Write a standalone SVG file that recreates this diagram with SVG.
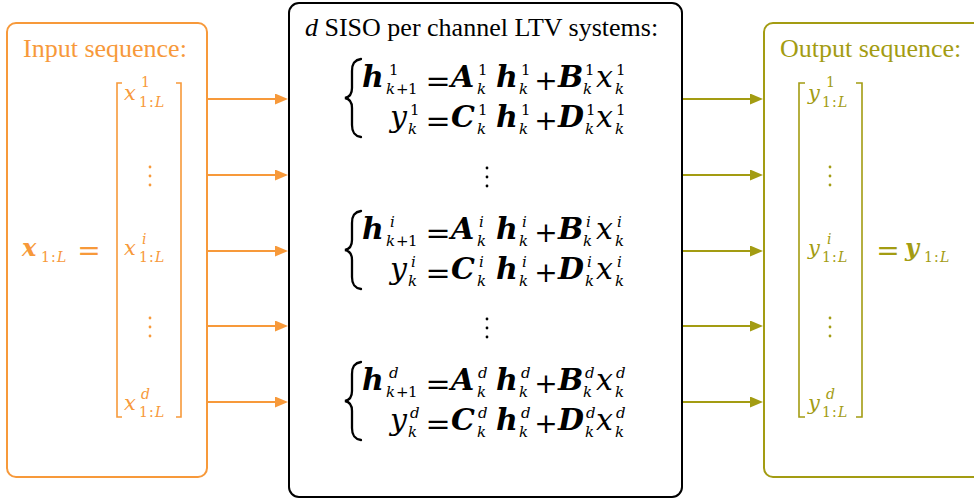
<svg xmlns="http://www.w3.org/2000/svg" width="974" height="502" viewBox="0 0 974 502">
<defs>
<style>
text{font-family:"Liberation Serif","Times New Roman",serif}
.mi{font-style:italic}
.mb{font-style:italic;font-weight:bold}
.op{font-family:"DejaVu Serif",serif;text-anchor:middle}
.m{font-family:"DejaVu Serif",serif;font-size:30px}
.s{font-family:"DejaVu Serif",serif;font-size:15px}
.v{font-family:"DejaVu Serif",serif;font-size:21px}
.vs{font-family:"DejaVu Serif",serif;font-size:14px}
.or{fill:#F7993A}
.ol{fill:#A39C12}
.orS{stroke:#F7993A;fill:none}
.olS{stroke:#A39C12;fill:none}
.brace{fill:none;stroke:#000;stroke-width:2.3;stroke-linecap:round}
</style>
<marker id="ao" markerUnits="userSpaceOnUse" markerWidth="14" markerHeight="12" refX="4" refY="5.5" orient="auto"><path d="M0,0 L13,5.5 L0,11 Z" fill="#F7993A"/></marker>
<marker id="al" markerUnits="userSpaceOnUse" markerWidth="14" markerHeight="12" refX="4" refY="5.5" orient="auto"><path d="M0,0 L13,5.5 L0,11 Z" fill="#A39C12"/></marker>
</defs>
<rect width="974" height="502" fill="#fff"/>

<g id="input">
<rect x="7" y="23" width="200" height="454" rx="9" class="orS" stroke-width="2"/>
<text x="23" y="57" font-size="26" class="or">Input sequence:</text>
<path d="M122 83 H117 V417 H122 M176 83 H181 V417 H176" class="orS" stroke-width="1.6"/>
<g class="or">
<text class="v mi" x="124" y="100">x</text><text class="vs" x="141" y="87">1</text>
<text class="vs" y="107"><tspan x="139">1</tspan><tspan x="149">:</tspan><tspan x="155" class="mi">L</tspan></text>
<g transform="translate(0,155)"><text class="v mi" x="124" y="100">x</text><text class="vs mi" x="142" y="89">i</text>
<text class="vs" y="107"><tspan x="139">1</tspan><tspan x="149">:</tspan><tspan x="155" class="mi">L</tspan></text></g>
<g transform="translate(0,310)"><text class="v mi" x="124" y="100">x</text><text class="vs mi" x="141" y="89">d</text>
<text class="vs" y="107"><tspan x="139">1</tspan><tspan x="149">:</tspan><tspan x="155" class="mi">L</tspan></text></g>
<circle cx="150" cy="167" r="1.4"/><circle cx="150" cy="176" r="1.4"/><circle cx="150" cy="185" r="1.4"/>
<circle cx="150" cy="318" r="1.4"/><circle cx="150" cy="327" r="1.4"/><circle cx="150" cy="336" r="1.4"/>
<text class="mb" style="font-family:'DejaVu Serif',serif" font-size="24" x="22" y="256">x</text>
<text class="vs" y="262"><tspan x="41">1</tspan><tspan x="51">:</tspan><tspan x="57" class="mi">L</tspan></text>
<text class="op" font-size="28" x="89" y="260">=</text>
</g>
</g>

<g id="systems">
<rect x="289" y="3" width="393" height="494" rx="10" fill="none" stroke="#000" stroke-width="2"/>
<text x="305" y="36" font-size="26"><tspan class="mi">d</tspan> SISO per channel LTV systems:</text>
<g id="sys1">
<path class="brace" d="M361 59 C354 60 352 64 352 71 L352 88 C352 94 350 97 345 98 C350 99 352 102 352 108 L352 125 C352 132 354 136 361 137"/>
<text class="m mb" x="362" y="87">h</text><text class="s" x="389" y="75">1</text>
<text class="s" y="94" font-size="14"><tspan x="386" class="mi">k</tspan><tspan x="396">+</tspan><tspan x="408">1</tspan></text>
<text class="op" font-size="30" x="438" y="91">=</text>
<text class="m mb" x="451" y="87">A</text><text class="s" x="478" y="75">1</text><text class="s mi" x="477" y="94">k</text>
<text class="m mb" x="496" y="87">h</text><text class="s" x="521" y="75">1</text><text class="s mi" x="519" y="94">k</text>
<text class="op" font-size="28" x="546" y="90">+</text>
<text class="m mb" x="558" y="87">B</text><text class="s" x="585" y="75">1</text><text class="s mi" x="583" y="94">k</text>
<text class="m mi" x="596" y="87">x</text><text class="s" x="616" y="75">1</text><text class="s mi" x="615" y="94">k</text>
<text class="m mi" x="390" y="127">y</text><text class="s" x="410" y="115">1</text><text class="s mi" x="408" y="134">k</text>
<text class="op" font-size="30" x="438" y="131">=</text>
<text class="m mb" x="451" y="127">C</text><text class="s" x="478" y="115">1</text><text class="s mi" x="477" y="134">k</text>
<text class="m mb" x="496" y="127">h</text><text class="s" x="521" y="115">1</text><text class="s mi" x="519" y="134">k</text>
<text class="op" font-size="28" x="546" y="130">+</text>
<text class="m mb" x="558" y="127">D</text><text class="s" x="586" y="115">1</text><text class="s mi" x="585" y="134">k</text>
<text class="m mi" x="596" y="127">x</text><text class="s" x="616" y="115">1</text><text class="s mi" x="615" y="134">k</text>
</g>
<g id="sysi" transform="translate(0,152)">
<path class="brace" d="M361 59 C354 60 352 64 352 71 L352 88 C352 94 350 97 345 98 C350 99 352 102 352 108 L352 125 C352 132 354 136 361 137"/>
<text class="m mb" x="362" y="87">h</text><text class="s mi" x="390" y="75">i</text>
<text class="s" y="94" font-size="14"><tspan x="386" class="mi">k</tspan><tspan x="396">+</tspan><tspan x="408">1</tspan></text>
<text class="op" font-size="30" x="438" y="91">=</text>
<text class="m mb" x="451" y="87">A</text><text class="s mi" x="479" y="75">i</text><text class="s mi" x="477" y="94">k</text>
<text class="m mb" x="496" y="87">h</text><text class="s mi" x="522" y="75">i</text><text class="s mi" x="519" y="94">k</text>
<text class="op" font-size="28" x="546" y="90">+</text>
<text class="m mb" x="558" y="87">B</text><text class="s mi" x="586" y="75">i</text><text class="s mi" x="583" y="94">k</text>
<text class="m mi" x="596" y="87">x</text><text class="s mi" x="617" y="75">i</text><text class="s mi" x="615" y="94">k</text>
<text class="m mi" x="390" y="127">y</text><text class="s mi" x="411" y="115">i</text><text class="s mi" x="408" y="134">k</text>
<text class="op" font-size="30" x="438" y="131">=</text>
<text class="m mb" x="451" y="127">C</text><text class="s mi" x="479" y="115">i</text><text class="s mi" x="477" y="134">k</text>
<text class="m mb" x="496" y="127">h</text><text class="s mi" x="522" y="115">i</text><text class="s mi" x="519" y="134">k</text>
<text class="op" font-size="28" x="546" y="130">+</text>
<text class="m mb" x="558" y="127">D</text><text class="s mi" x="587" y="115">i</text><text class="s mi" x="585" y="134">k</text>
<text class="m mi" x="596" y="127">x</text><text class="s mi" x="617" y="115">i</text><text class="s mi" x="615" y="134">k</text>
</g>
<g id="sysd" transform="translate(0,303)">
<path class="brace" d="M361 59 C354 60 352 64 352 71 L352 88 C352 94 350 97 345 98 C350 99 352 102 352 108 L352 125 C352 132 354 136 361 137"/>
<text class="m mb" x="362" y="87">h</text><text class="s mi" x="389" y="75">d</text>
<text class="s" y="94" font-size="14"><tspan x="386" class="mi">k</tspan><tspan x="396">+</tspan><tspan x="408">1</tspan></text>
<text class="op" font-size="30" x="438" y="91">=</text>
<text class="m mb" x="451" y="87">A</text><text class="s mi" x="478" y="75">d</text><text class="s mi" x="477" y="94">k</text>
<text class="m mb" x="496" y="87">h</text><text class="s mi" x="521" y="75">d</text><text class="s mi" x="519" y="94">k</text>
<text class="op" font-size="28" x="546" y="90">+</text>
<text class="m mb" x="558" y="87">B</text><text class="s mi" x="585" y="75">d</text><text class="s mi" x="583" y="94">k</text>
<text class="m mi" x="596" y="87">x</text><text class="s mi" x="616" y="75">d</text><text class="s mi" x="615" y="94">k</text>
<text class="m mi" x="390" y="127">y</text><text class="s mi" x="410" y="115">d</text><text class="s mi" x="408" y="134">k</text>
<text class="op" font-size="30" x="438" y="131">=</text>
<text class="m mb" x="451" y="127">C</text><text class="s mi" x="478" y="115">d</text><text class="s mi" x="477" y="134">k</text>
<text class="m mb" x="496" y="127">h</text><text class="s mi" x="521" y="115">d</text><text class="s mi" x="519" y="134">k</text>
<text class="op" font-size="28" x="546" y="130">+</text>
<text class="m mb" x="558" y="127">D</text><text class="s mi" x="586" y="115">d</text><text class="s mi" x="585" y="134">k</text>
<text class="m mi" x="596" y="127">x</text><text class="s mi" x="616" y="115">d</text><text class="s mi" x="615" y="134">k</text>
</g>
<circle cx="487" cy="168" r="1.4"/><circle cx="487" cy="177" r="1.4"/><circle cx="487" cy="186" r="1.4"/>
<circle cx="487" cy="319" r="1.4"/><circle cx="487" cy="328" r="1.4"/><circle cx="487" cy="337" r="1.4"/>
</g>

<g id="output">
<rect x="764" y="23" width="240" height="454" rx="9" class="olS" stroke-width="2"/>
<text x="780" y="57" font-size="26" class="ol">Output sequence:</text>
<path d="M805 83 H799 V417 H805 M856 83 H862 V417 H856" class="olS" stroke-width="1.6"/>
<g class="ol">
<text class="v mi" x="808" y="100">y</text><text class="vs" x="826" y="87">1</text>
<text class="vs" y="107"><tspan x="822">1</tspan><tspan x="832">:</tspan><tspan x="838" class="mi">L</tspan></text>
<g transform="translate(0,155)"><text class="v mi" x="808" y="100">y</text><text class="vs mi" x="827" y="89">i</text>
<text class="vs" y="107"><tspan x="822">1</tspan><tspan x="832">:</tspan><tspan x="838" class="mi">L</tspan></text></g>
<g transform="translate(0,310)"><text class="v mi" x="808" y="100">y</text><text class="vs mi" x="826" y="89">d</text>
<text class="vs" y="107"><tspan x="822">1</tspan><tspan x="832">:</tspan><tspan x="838" class="mi">L</tspan></text></g>
<circle cx="830" cy="167" r="1.4"/><circle cx="830" cy="176" r="1.4"/><circle cx="830" cy="185" r="1.4"/>
<circle cx="830" cy="318" r="1.4"/><circle cx="830" cy="327" r="1.4"/><circle cx="830" cy="336" r="1.4"/>
<text class="op" font-size="28" x="888" y="260">=</text>
<text class="mb" style="font-family:'DejaVu Serif',serif" font-size="24" x="905" y="256">y</text>
<text class="vs" y="262"><tspan x="924">1</tspan><tspan x="934">:</tspan><tspan x="940" class="mi">L</tspan></text>
</g>
</g>

<g id="connectors" stroke-width="2">
<g stroke="#F7993A" marker-end="url(#ao)">
<line x1="207" y1="99" x2="279" y2="99"/>
<line x1="207" y1="175" x2="279" y2="175"/>
<line x1="207" y1="251" x2="279" y2="251"/>
<line x1="207" y1="326" x2="279" y2="326"/>
<line x1="207" y1="402" x2="279" y2="402"/>
</g>
<g stroke="#A39C12" marker-end="url(#al)">
<line x1="683" y1="99" x2="754" y2="99"/>
<line x1="683" y1="175" x2="754" y2="175"/>
<line x1="683" y1="251" x2="754" y2="251"/>
<line x1="683" y1="326" x2="754" y2="326"/>
<line x1="683" y1="402" x2="754" y2="402"/>
</g>
</g>
</svg>
